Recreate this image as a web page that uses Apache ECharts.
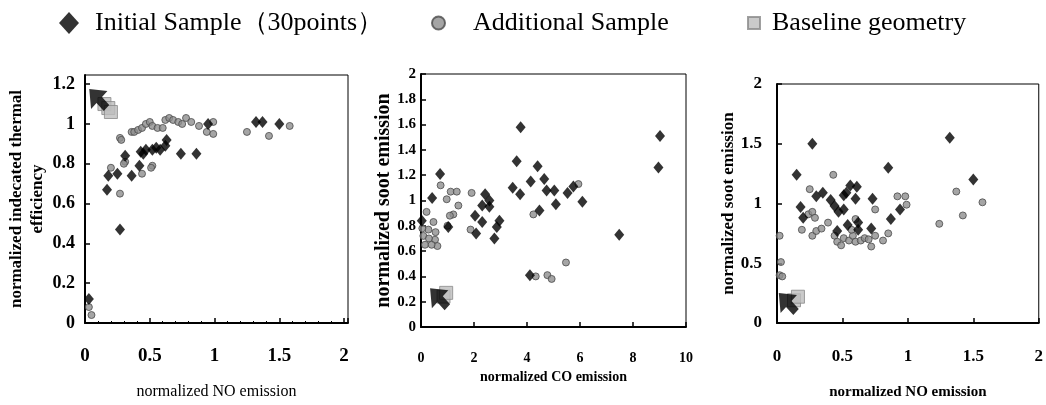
<!DOCTYPE html>
<html><head><meta charset="utf-8">
<script src="https://cdn.jsdelivr.net/npm/echarts@6/dist/echarts.min.js"></script>
<style>html,body{margin:0;padding:0;background:#fff}#c{width:1046px;height:405px}</style>
</head><body><div id="c"></div>
<script>
// ---- Panel 1: normalized NO emission vs normalized indicated thermal efficiency
const initNO1  = [0.03,0.17,0.18,0.25,0.27,0.31,0.36,0.42,0.43,0.45,0.47,0.52,0.55,0.58,0.62,0.63,0.74,0.86,0.95,1.32,1.37,1.50];
const initEff1 = [0.12,0.67,0.74,0.75,0.47,0.84,0.74,0.79,0.86,0.85,0.87,0.87,0.88,0.87,0.89,0.92,0.85,0.85,1.00,1.01,1.01,1.00];
const addNO1   = [0.03,0.05,0.20,0.27,0.28,0.27,0.31,0.30,0.36,0.38,0.41,0.44,0.47,0.50,0.52,0.56,0.60,0.62,0.65,0.68,0.72,0.75,0.78,0.82,0.88,0.94,0.99,0.99,0.44,0.52,0.51,1.25,1.42,1.58];
const addEff1  = [0.08,0.04,0.78,0.93,0.92,0.65,0.81,0.80,0.96,0.96,0.97,0.98,1.00,1.01,0.99,0.98,0.98,1.02,1.03,1.02,1.01,1.00,1.03,1.01,0.99,0.96,1.01,0.95,0.75,0.79,0.78,0.96,0.94,0.99];
const baseNO1  = [0.15,0.18,0.20];
const baseEff1 = [1.10,1.08,1.06];
const markNO1  = [0.11];
const markEff1 = [1.12];

// ---- Panel 2: normalized CO emission vs normalized soot emission
const initCO2   = [0.03,0.42,0.72,1.03,2.04,2.08,2.31,2.31,2.42,2.58,2.58,2.77,2.86,2.96,3.46,3.61,3.76,3.74,4.14,4.11,4.40,4.47,4.65,4.74,5.03,5.09,5.53,5.75,6.09,7.48,8.96,9.02];
const initSoot2 = [0.84,1.02,1.21,0.79,0.88,0.74,0.96,0.83,1.05,1.00,0.95,0.70,0.79,0.84,1.10,1.31,1.58,1.05,1.15,0.41,1.27,0.92,1.17,1.08,1.08,0.97,1.06,1.11,0.99,0.73,1.26,1.51];
const addCO2    = [0.21,0.74,0.97,1.12,1.35,1.41,1.22,1.09,1.91,1.87,4.24,4.33,4.77,4.93,5.47,5.94,0.09,0.28,0.47,0.53,0.62,0.15,0.40,0.05,0.30,0.55,1.00];
const addSoot2  = [0.91,1.12,1.01,1.07,1.07,0.96,0.89,0.88,1.06,0.77,0.89,0.40,0.41,0.38,0.51,1.13,0.72,0.77,0.83,0.69,0.64,0.65,0.65,0.78,0.70,0.75,0.80];
const baseCO2   = [0.85,0.95];
const baseSoot2 = [0.24,0.27];
const markCO2   = [0.72];
const markSoot2 = [0.22];

// ---- Panel 3: normalized NO emission vs normalized soot emission
const initNO3   = [0.15,0.18,0.20,0.27,0.30,0.35,0.41,0.44,0.47,0.51,0.51,0.53,0.46,0.54,0.56,0.61,0.60,0.62,0.62,0.72,0.73,0.85,0.87,0.94,1.32,1.50];
const initSoot3 = [1.24,0.97,0.88,1.50,1.06,1.09,1.03,0.98,0.93,0.95,1.07,1.09,0.77,0.82,1.15,1.14,1.04,0.84,0.78,0.79,1.04,1.30,0.87,0.95,1.55,1.20];
const addNO3    = [0.02,0.03,0.02,0.04,0.25,0.24,0.27,0.29,0.19,0.27,0.30,0.34,0.39,0.43,0.44,0.46,0.49,0.51,0.55,0.58,0.60,0.64,0.67,0.70,0.72,0.75,0.81,0.85,0.60,0.57,0.75,0.92,0.98,0.99,1.24,1.37,1.42,1.57];
const addSoot3  = [0.73,0.51,0.40,0.39,1.12,0.91,0.93,0.88,0.78,0.73,0.77,0.79,0.84,1.24,0.73,0.68,0.65,0.71,0.69,0.73,0.68,0.69,0.71,0.70,0.64,0.73,0.69,0.75,0.87,0.78,0.95,1.06,1.06,0.99,0.83,1.10,0.90,1.01];
const baseNO3   = [0.13,0.16];
const baseSoot3 = [0.19,0.22];
const markNO3   = [0.09];
const markSoot3 = [0.16];

// ---- Text
const seriesNames = ['Initial Sample（30points）','Additional Sample','Baseline geometry'];
const xNames = ['normalized NO emission','normalized CO emission','normalized NO emission'];
const yNames = ['normalized indecated thermal\nefficiency','normalized soot emission','normalized soot emission'];

const F = "'Liberation Serif','Times New Roman',serif";
const zip = (a,b)=>a.map((v,i)=>[v,b[i]]);
const ARROW = 'path://M0,0 L20,2 L14,8 L22,16 L16,22 L8,14 L2,20 Z';

function axisCommon(extra){
  return Object.assign({
    type:'value', min:0, splitLine:{show:false},
    axisLine:{onZero:false, lineStyle:{color:'#000', width:2}},
    axisTick:{inside:true, length:5, lineStyle:{color:'#000', width:1.5}},
    nameLocation:'middle'
  }, extra);
}

const xAxis = [
  axisCommon({gridIndex:0, max:2.03, interval:0.5, name:xNames[0], nameGap:61,
    minorTick:{show:true, splitNumber:5, length:2, lineStyle:{color:'#000'}},
    nameTextStyle:{fontFamily:F, fontSize:16, color:'#000'},
    axisLabel:{fontFamily:F, fontWeight:'bold', fontSize:19, color:'#000', margin:24, showMaxLabel:false}}),
  axisCommon({gridIndex:1, max:10, interval:2, name:xNames[1], nameGap:40,
    nameTextStyle:{fontFamily:F, fontWeight:'bold', fontSize:14, color:'#000'},
    axisLabel:{fontFamily:F, fontWeight:'bold', fontSize:14, color:'#000', margin:24}}),
  axisCommon({gridIndex:2, max:2, interval:0.5, name:xNames[2], nameGap:62,
    nameTextStyle:{fontFamily:F, fontWeight:'bold', fontSize:15, color:'#000'},
    axisLabel:{fontFamily:F, fontWeight:'bold', fontSize:17, color:'#000', margin:25}})
];
const yAxis = [
  axisCommon({gridIndex:0, max:1.246, interval:0.2, name:yNames[0], nameGap:36,
    nameTextStyle:{fontFamily:F, fontWeight:'bold', fontSize:17, lineHeight:21, color:'#000'},
    axisLabel:{fontFamily:F, fontWeight:'bold', fontSize:18, color:'#000', margin:10, showMaxLabel:false}}),
  axisCommon({gridIndex:1, max:2, interval:0.2, name:yNames[1], nameGap:21,
    nameTextStyle:{fontFamily:F, fontWeight:'bold', fontSize:20, color:'#000'},
    axisLabel:{fontFamily:F, fontWeight:'bold', fontSize:15, color:'#000', margin:5}}),
  axisCommon({gridIndex:2, max:2, interval:0.5, name:yNames[2], nameGap:35,
    nameTextStyle:{fontFamily:F, fontWeight:'bold', fontSize:17, color:'#000'},
    axisLabel:{fontFamily:F, fontWeight:'bold', fontSize:17, color:'#000', margin:15}})
];

const addStyle  = {color:'#8f8f8f', borderColor:'#4a4a4a', borderWidth:1};
const initStyle = {color:'#000'};
const baseStyle = {color:'#bdbdbd', borderColor:'#888', borderWidth:1};

const panels = [
  {init:zip(initNO1,initEff1), add:zip(addNO1,addEff1), base:zip(baseNO1,baseEff1), mark:zip(markNO1,markEff1)},
  {init:zip(initCO2,initSoot2), add:zip(addCO2,addSoot2), base:zip(baseCO2,baseSoot2), mark:zip(markCO2,markSoot2)},
  {init:zip(initNO3,initSoot3), add:zip(addNO3,addSoot3), base:zip(baseNO3,baseSoot3), mark:zip(markNO3,markSoot3)}
];
const series = [];
panels.forEach((p,i)=>{
  series.push({type:'scatter', name:seriesNames[1], xAxisIndex:i, yAxisIndex:i, data:p.add, symbol:'circle', symbolSize:7, itemStyle:addStyle});
  series.push({type:'scatter', name:seriesNames[0], xAxisIndex:i, yAxisIndex:i, data:p.init, symbol:'diamond', symbolSize:[10,12], itemStyle:initStyle});
  series.push({type:'scatter', name:seriesNames[2], xAxisIndex:i, yAxisIndex:i, data:p.base, symbol:'rect', symbolSize:13, itemStyle:baseStyle});
  series.push({type:'scatter', name:'baseline marker', xAxisIndex:i, yAxisIndex:i, data:p.mark, symbol:ARROW, symbolSize:[20,22], itemStyle:{color:'#000'}});
});

const legText = (pad)=>({fontFamily:F, fontSize:26, color:'#000', padding:[0,0,0,pad]});
const option = {
  animation:false,
  backgroundColor:'#fff',
  legend:[
    {left:59, top:10, padding:0, itemWidth:20, itemHeight:22, selectedMode:false, textStyle:legText(11), data:[{name:seriesNames[0], icon:'diamond'}]},
    {left:431, top:10, padding:0, itemWidth:13, itemHeight:13, selectedMode:false, textStyle:legText(23), data:[{name:seriesNames[1], icon:'circle'}]},
    {left:747, top:10, padding:0, itemWidth:12, itemHeight:12, selectedMode:false, textStyle:legText(7), data:[{name:seriesNames[2], icon:'rect'}]}
  ],
  grid:[
    {left:85, top:75, width:263, height:251, show:true, borderColor:'#000', borderWidth:1, backgroundColor:'transparent'},
    {left:421, top:74, width:265, height:253, show:true, borderColor:'#000', borderWidth:1, backgroundColor:'transparent'},
    {left:777, top:84, width:267, height:241, show:true, borderColor:'#000', borderWidth:1, backgroundColor:'transparent'}
  ],
  xAxis, yAxis, series
};
const chart = echarts.init(document.getElementById('c'), null, {renderer:'canvas'});
chart.setOption(option);
</script>
</body></html>
